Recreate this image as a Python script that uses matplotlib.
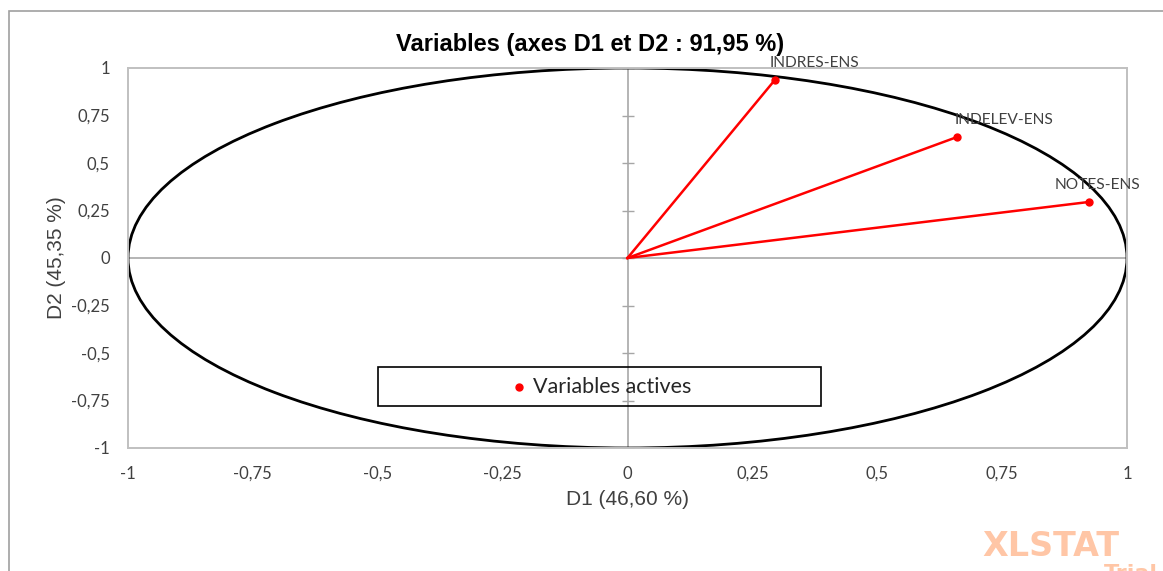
import matplotlib.pyplot as plt
import matplotlib.patches as mpatches
import numpy as np

# coordonnées des variables sur D1 / D2
variables = ['NOTES-ENS', 'INDELEV-ENS', 'INDRES-ENS']
d1 = [0.924, 0.660, 0.295]
d2 = [0.295, 0.637, 0.937]

ticks = [-1, -0.75, -0.5, -0.25, 0, 0.25, 0.5, 0.75, 1]
tick_labels = ['-1', '-0,75', '-0,5', '-0,25', '0', '0,25', '0,5', '0,75', '1']

titre = 'Variables (axes D1 et D2 : 91,95 %)'
xlab = 'D1 (46,60 %)'
ylab = 'D2 (45,35 %)'
legende = 'Variables actives'

# décalage des étiquettes (points)
offsets = [(-25, 12), (-2, 12), (-3.5, 12)]

fig = plt.figure(figsize=(11.63, 5.71), dpi=100)
ax = fig.add_axes([128/1163, 1 - 448/571, 999/1163, 380/571])

# cadre extérieur
fig.add_artist(mpatches.Rectangle((9/1163, -0.1), 1.2, 1.1 - 11/571, transform=fig.transFigure,
                                  fill=False, edgecolor='#a0a0a0', lw=1.2))

ax.set_xlim(-1, 1)
ax.set_ylim(-1, 1)
for s in ax.spines.values():
   s.set_color('#c0c0c0')
   s.set_linewidth(1.4)

ax.axhline(0, color='#b4b4b4', lw=1.4, zorder=1)
ax.axvline(0, color='#b4b4b4', lw=1.4, zorder=1)
ax.plot(np.zeros(len(ticks)), ticks, '_', color='#a6a6a6', ms=9, mew=1, zorder=1)

ax.add_patch(mpatches.Circle((0, 0), 1, fill=False, edgecolor='black', lw=2, zorder=2))

for x, y, name, off in zip(d1, d2, variables, offsets):
   ax.plot([0, x], [0, y], color='red', lw=1.8, zorder=3)
   ax.plot(x, y, 'o', color='red', ms=5, zorder=4)
   ax.annotate(name, (x, y), xytext=off, textcoords='offset points', ha='left', va='center',
               fontsize=11.2, color='#404040', family='Lato')

ax.set_xticks(ticks)
ax.set_xticklabels(tick_labels)
ax.set_yticks(ticks)
ax.set_yticklabels(tick_labels)
ax.tick_params(length=0, pad=13, labelsize=12, labelcolor='#404040')
for lab in ax.get_xticklabels() + ax.get_yticklabels():
   lab.set_family('Lato')

ax.set_xlabel(xlab, fontsize=15, color='#404040', family='Liberation Sans', labelpad=6)
ax.set_ylabel(ylab, fontsize=15, color='#404040', family='Liberation Sans', labelpad=4)
fig.text(590/1163, 1 - 44/571, titre, ha='center', va='center', fontsize=17,
         fontweight='bold', family='Liberation Sans')

# légende
ax.add_patch(mpatches.Rectangle((0.250, 0.1105), 0.444, 0.1026, transform=ax.transAxes,
                                fill=False, edgecolor='black', lw=1.2, zorder=5))
ax.plot([0.3914], [0.1605], 'o', color='red', ms=5, transform=ax.transAxes, zorder=5)
ax.text(0.405, 0.1605, legende, transform=ax.transAxes, ha='left', va='center',
        fontsize=15.5, color='#262626', family='Lato', zorder=5)

# filigrane
fig.text(982/1163, 1 - 547/571, 'XLSTAT', ha='left', va='center', fontsize=24,
         fontweight='heavy', color='#ffc6a6', family='DejaVu Sans')
fig.text(1104/1163, 1 - 574/571, 'Trial', ha='left', va='center', fontsize=16,
         fontweight='bold', color='#ffc6a6', family='DejaVu Sans')

plt.savefig('out.png', dpi=100)
